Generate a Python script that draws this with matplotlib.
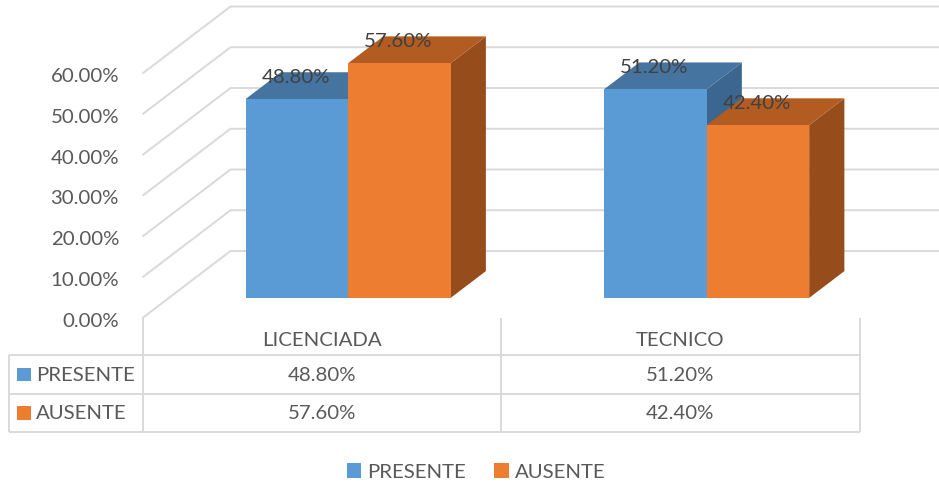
import matplotlib
matplotlib.use('Agg')
import matplotlib.pyplot as plt
from matplotlib.patches import Polygon, Rectangle, Patch

# ---------------- data ----------------
categories = ['LICENCIADA', 'TECNICO']
series_names = ['PRESENTE', 'AUSENTE']
presente = [48.8, 51.2]
ausente = [57.6, 42.4]
y_ticks = [0, 10, 20, 30, 40, 50, 60]

series_values = [presente, ausente]
front_colors = ['#5B9BD5', '#ED7D31']
top_colors = ['#44749F', '#B35C22']
side_colors = ['#3A668F', '#974C1C']

plt.rcParams['font.family'] = ['Lato', 'DejaVu Sans']

W, H, DPI = 939, 486, 100
fig = plt.figure(figsize=(W / DPI, H / DPI), dpi=DPI)
fig.patch.set_facecolor('white')

# geometry in pixels
X0 = 142.5     # front floor left edge
CW = 358.5     # pixels per category
Y0 = 318.0     # front 0% row (from top)
VS = 4.075     # pixels per percent
DXP, DYP = 88.0, 67.0  # full depth offset in pixels
PT = 72 / DPI

ax = fig.add_axes([0, 0, 1, 1])
ax.set_xlim(-X0 / CW, (W - X0) / CW)
ax.set_ylim(-(H - Y0) / VS, Y0 / VS)
ax.axis('off')

DX = DXP / CW
DY = DYP / VS


def P(u, v, d):
    return (u + d * DX, v + d * DY)


GRID = '#D9D9D9'
xmax = (W - X0) / CW
for t in y_ticks:
    pts = [P(0, t, 0), P(0, t, 1), (xmax, t + DY)]
    ax.plot([p[0] for p in pts], [p[1] for p in pts], color=GRID, lw=1.4,
            solid_capstyle='butt', zorder=1)
    ax.annotate(f'{t:.2f}%', xy=((119 - X0) / CW, t), xytext=(0, -3 * PT),
                textcoords='offset points', ha='right', va='center',
                fontsize=14.7, color='#595959')

BW = 0.286
D0, D1 = 0.3, 0.7
for i, cat in enumerate(categories):
    for j, vals in enumerate(series_values):
        v = vals[i]
        ul = i + 0.5 + (j - 1) * BW
        ur = ul + BW
        side = [P(ur, 0, D0), P(ur, 0, D1), P(ur, v, D1), P(ur, v, D0)]
        top = [P(ul, v, D0), P(ur, v, D0), P(ur, v, D1), P(ul, v, D1)]
        front = [P(ul, 0, D0), P(ur, 0, D0), P(ur, v, D0), P(ul, v, D0)]
        z = 3 + i * 3 + j * 1.5
        ax.add_patch(Polygon(side, closed=True, facecolor=side_colors[j],
                             edgecolor='none', zorder=z))
        ax.add_patch(Polygon(top, closed=True, facecolor=top_colors[j],
                             edgecolor='none', zorder=z + 0.1))
        ax.add_patch(Polygon(front, closed=True, facecolor=front_colors[j],
                             edgecolor='none', zorder=z + 0.2))
        cx, cy = P(ul + BW / 2, v, D0)
        ax.annotate(f'{v:.2f}%', xy=(cx, cy), xytext=(-1 * PT, 22 * PT),
                    textcoords='offset points', ha='center', va='center',
                    fontsize=14.7, color='#404040', zorder=20)

# ---------------- data table ----------------
tab = fig.add_axes([0, 0, 1, 1])
tab.set_xlim(ax.get_xlim())
tab.set_ylim(H, 0)
tab.axis('off')
tab.patch.set_alpha(0)

TL = '#D9D9D9'
left_u = (9 - X0) / CW
r_top, r1, r2, r_bot = Y0, 355, 393.5, 432
ncat = len(categories)
for k in range(ncat + 1):
    tab.plot([k, k], [r_top, r_bot], color=TL, lw=1.4, solid_capstyle='butt')
tab.plot([left_u, left_u], [r1, r_bot], color=TL, lw=1.4, solid_capstyle='butt')
for yy in (r1, r2, r_bot):
    tab.plot([left_u, ncat], [yy, yy], color=TL, lw=1.4, solid_capstyle='butt')

for i, cat in enumerate(categories):
    tab.text(i + 0.5, (r_top + r1) / 2 + 4, cat, ha='center', va='center',
             fontsize=14.7, color='#595959')
rows = [(r1, r2), (r2, r_bot)]
for j, (name, vals) in enumerate(zip(series_names, series_values)):
    yc = (rows[j][0] + rows[j][1]) / 2
    for i, v in enumerate(vals):
        tab.text(i + 0.5, yc + 1, f'{v:.2f}%', ha='center', va='center',
                 fontsize=14.7, color='#595959')
    sq = 13.5
    tab.add_patch(Rectangle(((17 - X0) / CW, yc - sq / 2), sq / CW, sq,
                            facecolor=front_colors[j], edgecolor='none'))
    tab.text((36 - X0) / CW, yc + 1, name, ha='left', va='center',
             fontsize=14.7, color='#595959')

# ---------------- legend ----------------
handles = [Patch(facecolor=c, edgecolor='none') for c in front_colors]
fig.legend(handles, series_names, loc='center',
           bbox_to_anchor=(476 / W, 1 - 472 / H), ncol=2, frameon=False,
           handlelength=0.7, handleheight=0.7, handletextpad=0.3,
           columnspacing=1.4, fontsize=14.7, labelcolor='#595959')

fig.savefig('out.png', dpi=DPI)
